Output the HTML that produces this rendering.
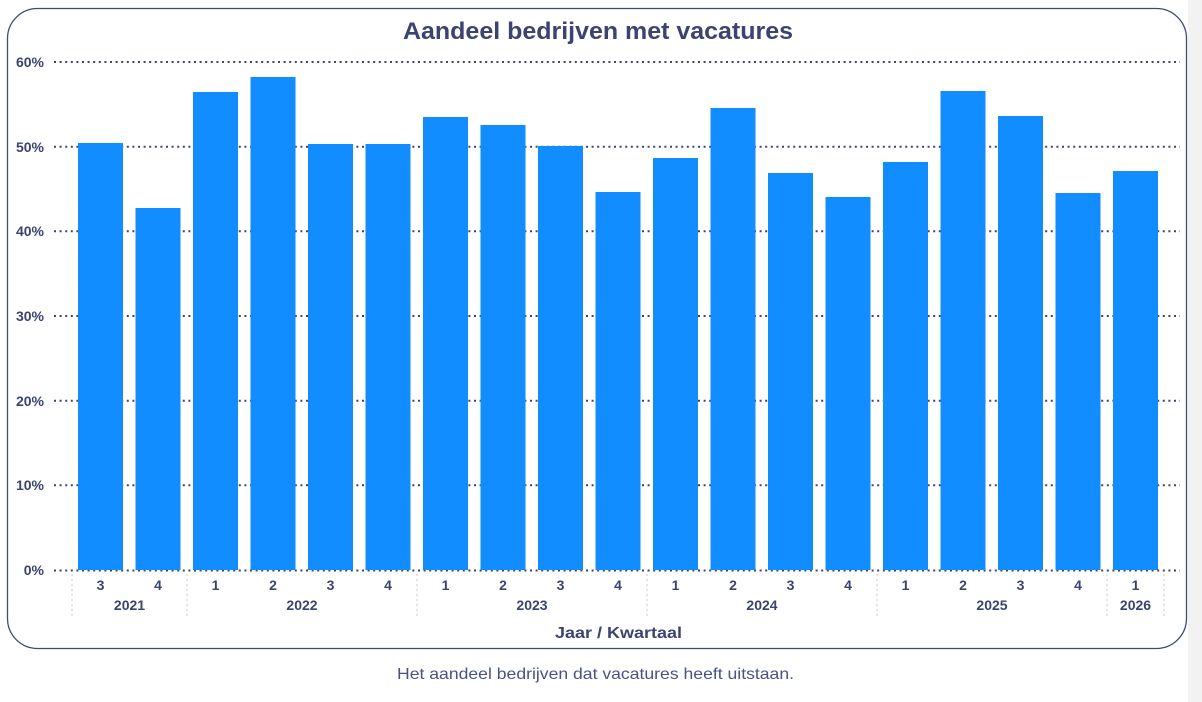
<!DOCTYPE html>
<html><head><meta charset="utf-8"><style>
html,body{margin:0;padding:0;background:#fff;width:1202px;height:702px;overflow:hidden}
svg{display:block}
text{font-family:"Liberation Sans",sans-serif;fill:#3b4470}
</style></head><body>
<svg width="1202" height="702" viewBox="0 0 1202 702" xmlns="http://www.w3.org/2000/svg">
<rect x="1188" y="0" width="14" height="702" fill="#f2f2f2"/>
<rect x="7.5" y="8.5" width="1179" height="640" rx="30" ry="30" fill="#fff" stroke="#3f4a7a" stroke-width="1.3"/>
<text x="598" y="39" text-anchor="middle" font-size="24" font-weight="bold" textLength="390" lengthAdjust="spacingAndGlyphs">Aandeel bedrijven met vacatures</text>
<g stroke="#3b4470" stroke-width="2" stroke-dasharray="2,3.6">
<line x1="54" x2="1180" y1="62" y2="62"/>
<line x1="54" x2="1180" y1="146.7" y2="146.7"/>
<line x1="54" x2="1180" y1="231.3" y2="231.3"/>
<line x1="54" x2="1180" y1="316" y2="316"/>
<line x1="54" x2="1180" y1="400.7" y2="400.7"/>
<line x1="54" x2="1180" y1="485.3" y2="485.3"/>
<line x1="54" x2="1180" y1="570.5" y2="570.5"/>
</g>
<g font-size="14" font-weight="bold" text-anchor="end">
<text x="44" y="67">60%</text>
<text x="44" y="152">50%</text>
<text x="44" y="236">40%</text>
<text x="44" y="321">30%</text>
<text x="44" y="406">20%</text>
<text x="44" y="490">10%</text>
<text x="44" y="575">0%</text>
</g>
<g fill="#118dff">
<rect x="78" y="143" width="45" height="427"/>
<rect x="135.5" y="208" width="45" height="362"/>
<rect x="193" y="92" width="45" height="478"/>
<rect x="250.5" y="77" width="45" height="493"/>
<rect x="308" y="144" width="45" height="426"/>
<rect x="365.5" y="144" width="45" height="426"/>
<rect x="423" y="117" width="45" height="453"/>
<rect x="480.5" y="125" width="45" height="445"/>
<rect x="538" y="146" width="45" height="424"/>
<rect x="595.5" y="192" width="45" height="378"/>
<rect x="653" y="158" width="45" height="412"/>
<rect x="710.5" y="108" width="45" height="462"/>
<rect x="768" y="173" width="45" height="397"/>
<rect x="825.5" y="197" width="45" height="373"/>
<rect x="883" y="162" width="45" height="408"/>
<rect x="940.5" y="91" width="45" height="479"/>
<rect x="998" y="116" width="45" height="454"/>
<rect x="1055.5" y="193" width="45" height="377"/>
<rect x="1113" y="171" width="45" height="399"/>
</g>
<g stroke="#c8c8c8" stroke-width="1" stroke-dasharray="2,3">
<line x1="72" x2="72" y1="574" y2="618"/>
<line x1="187" x2="187" y1="574" y2="618"/>
<line x1="417" x2="417" y1="574" y2="618"/>
<line x1="647" x2="647" y1="574" y2="618"/>
<line x1="877" x2="877" y1="574" y2="618"/>
<line x1="1107" x2="1107" y1="574" y2="618"/>
<line x1="1164" x2="1164" y1="574" y2="618"/>
</g>
<g font-size="14" font-weight="bold" text-anchor="middle">
<text x="100.5" y="590">3</text>
<text x="158" y="590">4</text>
<text x="215.5" y="590">1</text>
<text x="273" y="590">2</text>
<text x="330.5" y="590">3</text>
<text x="388" y="590">4</text>
<text x="445.5" y="590">1</text>
<text x="503" y="590">2</text>
<text x="560.5" y="590">3</text>
<text x="618" y="590">4</text>
<text x="675.5" y="590">1</text>
<text x="733" y="590">2</text>
<text x="790.5" y="590">3</text>
<text x="848" y="590">4</text>
<text x="905.5" y="590">1</text>
<text x="963" y="590">2</text>
<text x="1020.5" y="590">3</text>
<text x="1078" y="590">4</text>
<text x="1135.5" y="590">1</text>
<text x="129.5" y="610">2021</text>
<text x="302" y="610">2022</text>
<text x="532" y="610">2023</text>
<text x="762" y="610">2024</text>
<text x="992" y="610">2025</text>
<text x="1135.5" y="610">2026</text>
<text x="618.5" y="638" font-size="16" textLength="127" lengthAdjust="spacingAndGlyphs">Jaar / Kwartaal</text>
</g>
<text x="595.5" y="679" text-anchor="middle" font-size="16" fill="#4a5285" style="fill:#4a5285" textLength="397" lengthAdjust="spacingAndGlyphs">Het aandeel bedrijven dat vacatures heeft uitstaan.</text>
</svg>
</body></html>
